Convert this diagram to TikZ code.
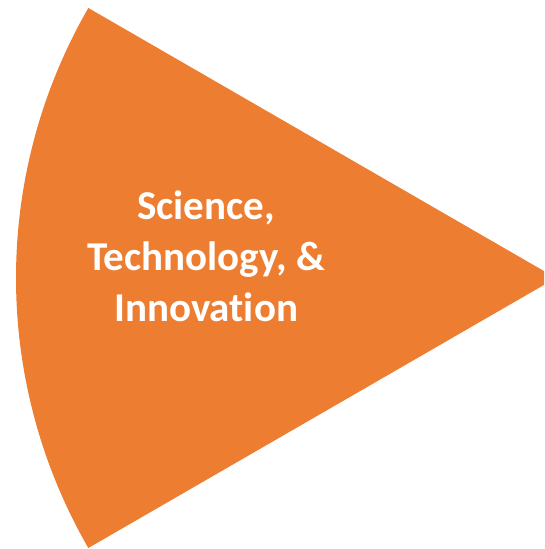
\documentclass[tikz,border=0pt]{standalone}
\usepackage{fontspec}
\setmainfont[Ligatures={NoCommon}]{Carlito}
\definecolor{wedgeorange}{HTML}{ED7D31}
\begin{document}
\begin{tikzpicture}[x=1pt,y=1pt,
  wedge/.style={fill=wedgeorange,draw=none},
  label/.style={text=white,font=\bfseries\fontsize{41}{51}\selectfont,align=center,inner sep=0pt,anchor=base}]
\useasboundingbox (0,0) rectangle (544,549);
\clip (0,0) rectangle (544,549);
\coordinate (apex) at (556,271);
\fill[wedge] (apex) -- ++(150:540) arc[start angle=150,end angle=210,radius=540] -- cycle;
\node[label] (title) at (206,227) {Science,\\Technology, \&\\Innovation};
\end{tikzpicture}
\end{document}
